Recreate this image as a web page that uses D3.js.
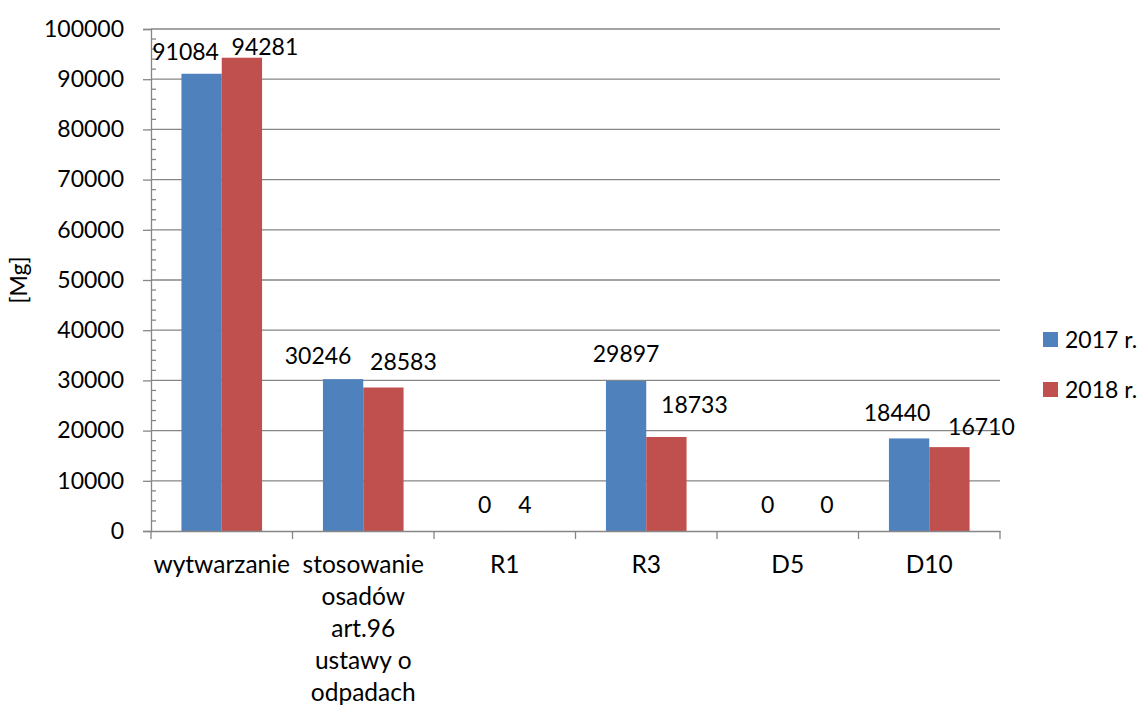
<!DOCTYPE html>
<html><head><meta charset="utf-8">
<script src="https://cdn.jsdelivr.net/npm/d3@7"></script>
<style>body{margin:0;background:#fff}svg{display:block}text{font-family:Lato,"Open Sans",sans-serif;fill:#000}</style>
</head><body><svg id="c" width="1142" height="707"></svg>
<script>
const categories = ["wytwarzanie", "stosowanie\nosadów\nart.96\nustawy o\nodpadach", "R1", "R3", "D5", "D10"];
const seriesNames = ["2017 r.", "2018 r."];
const values2017 = [91084, 30246, 0, 29897, 0, 18440];
const values2018 = [94281, 28583, 4, 18733, 0, 16710];
const yTicks = [0, 10000, 20000, 30000, 40000, 50000, 60000, 70000, 80000, 90000, 100000];
const colors = ["#4F81BD", "#C0504D"];
// manual label nudges (dx, dy) per series, as placed in the original
const labelNudge2017 = [[-16, 4], [-25, 3], [0, 0], [0, -1], [0, 0], [-12, 1]];
const labelNudge2018 = [[23, 15], [20, 0], [0, 0], [28, -6], [19, 0], [32, 6]];

const svg = d3.select("#c");
const L = 151, R = 1000, T = 29, B = 531;
const FS = 23;
const grid = "#868686";

const y = d3.scaleLinear().domain([0, 100000]).range([B, T]);
const x = d3.scaleBand().domain(categories).range([L, R]).padding(0);
const xs = d3.scaleBand().domain(seriesNames).range([0, x.bandwidth()]).paddingInner(0).paddingOuter(0.755);

// gridlines
svg.append("g").selectAll("line").data(yTicks.filter(d => d > 0)).join("line")
  .attr("x1", L).attr("x2", R).attr("y1", d => y(d)).attr("y2", d => y(d))
  .attr("stroke", grid).attr("stroke-width", 1.3);

// bars
const data = [values2017, values2018];
const nudges = [labelNudge2017, labelNudge2018];
data.forEach((vals, si) => {
  const g = svg.append("g");
  g.selectAll("rect").data(vals).join("rect")
    .attr("x", (d, i) => x(categories[i]) + xs(seriesNames[si]))
    .attr("width", xs.bandwidth())
    .attr("y", d => y(d))
    .attr("height", d => B - y(d))
    .attr("fill", colors[si]);
});

// y axis
const yAxis = d3.axisLeft(y).tickValues(yTicks).tickSize(8).tickFormat(d3.format("d")).tickPadding(19);
const ya = svg.append("g").attr("transform", `translate(${L},0)`).call(yAxis);
ya.select(".domain").attr("stroke", grid).attr("stroke-width", 1.3);
ya.selectAll(".tick line").attr("stroke", grid).attr("stroke-width", 1.3);
ya.selectAll(".tick text").attr("font-size", FS).attr("font-family", "Lato").attr("fill", "#000");
// minor ticks
const minor = d3.range(0, 100001, 2000).filter(d => d % 10000 !== 0);
svg.append("g").selectAll("line").data(minor).join("line")
  .attr("x1", L).attr("x2", L + 5).attr("y1", d => y(d)).attr("y2", d => y(d))
  .attr("stroke", grid).attr("stroke-width", 1.3);

// x axis
const xAxis = d3.axisBottom(x).tickSize(0).tickFormat("");
const xa = svg.append("g").attr("transform", `translate(0,${B})`).call(xAxis);
xa.select(".domain").attr("stroke", grid).attr("stroke-width", 1.3);
const bounds = categories.map(c => x(c)).concat([R]);
svg.append("g").selectAll("line").data(bounds).join("line")
  .attr("x1", d => d).attr("x2", d => d).attr("y1", B).attr("y2", B + 8)
  .attr("stroke", grid).attr("stroke-width", 1.3);

// category labels
const cl = svg.append("g").selectAll("text").data(categories).join("text")
  .attr("text-anchor", "middle").attr("font-size", 24.5)
  .attr("x", d => x(d) + x.bandwidth() / 2).attr("y", 573);
cl.each(function(d) {
  const t = d3.select(this);
  d.split("\n").forEach((ln, i) => {
    t.append("tspan").attr("x", x(d) + x.bandwidth() / 2).attr("dy", i === 0 ? 0 : 32).text(ln);
  });
});

// data labels
data.forEach((vals, si) => {
  svg.append("g").selectAll("text").data(vals).join("text")
    .attr("text-anchor", "middle").attr("font-size", FS)
    .attr("x", (d, i) => x(categories[i]) + xs(seriesNames[si]) + xs.bandwidth() / 2 + nudges[si][i][0])
    .attr("y", (d, i) => y(d) - 18 + nudges[si][i][1])
    .text(d => d);
});

// y title
svg.append("text").attr("transform", "translate(27,280) rotate(-90)")
  .attr("text-anchor", "middle").attr("font-size", FS).text("[Mg]");

// legend
const lg = svg.append("g").selectAll("g").data(seriesNames).join("g")
  .attr("transform", (d, i) => `translate(1043,${332 + i * 50})`);
lg.append("rect").attr("width", 15).attr("height", 15).attr("fill", (d, i) => colors[i]);
lg.append("text").attr("x", 22).attr("y", 16).attr("font-size", FS).text(d => d);
</script></body></html>
